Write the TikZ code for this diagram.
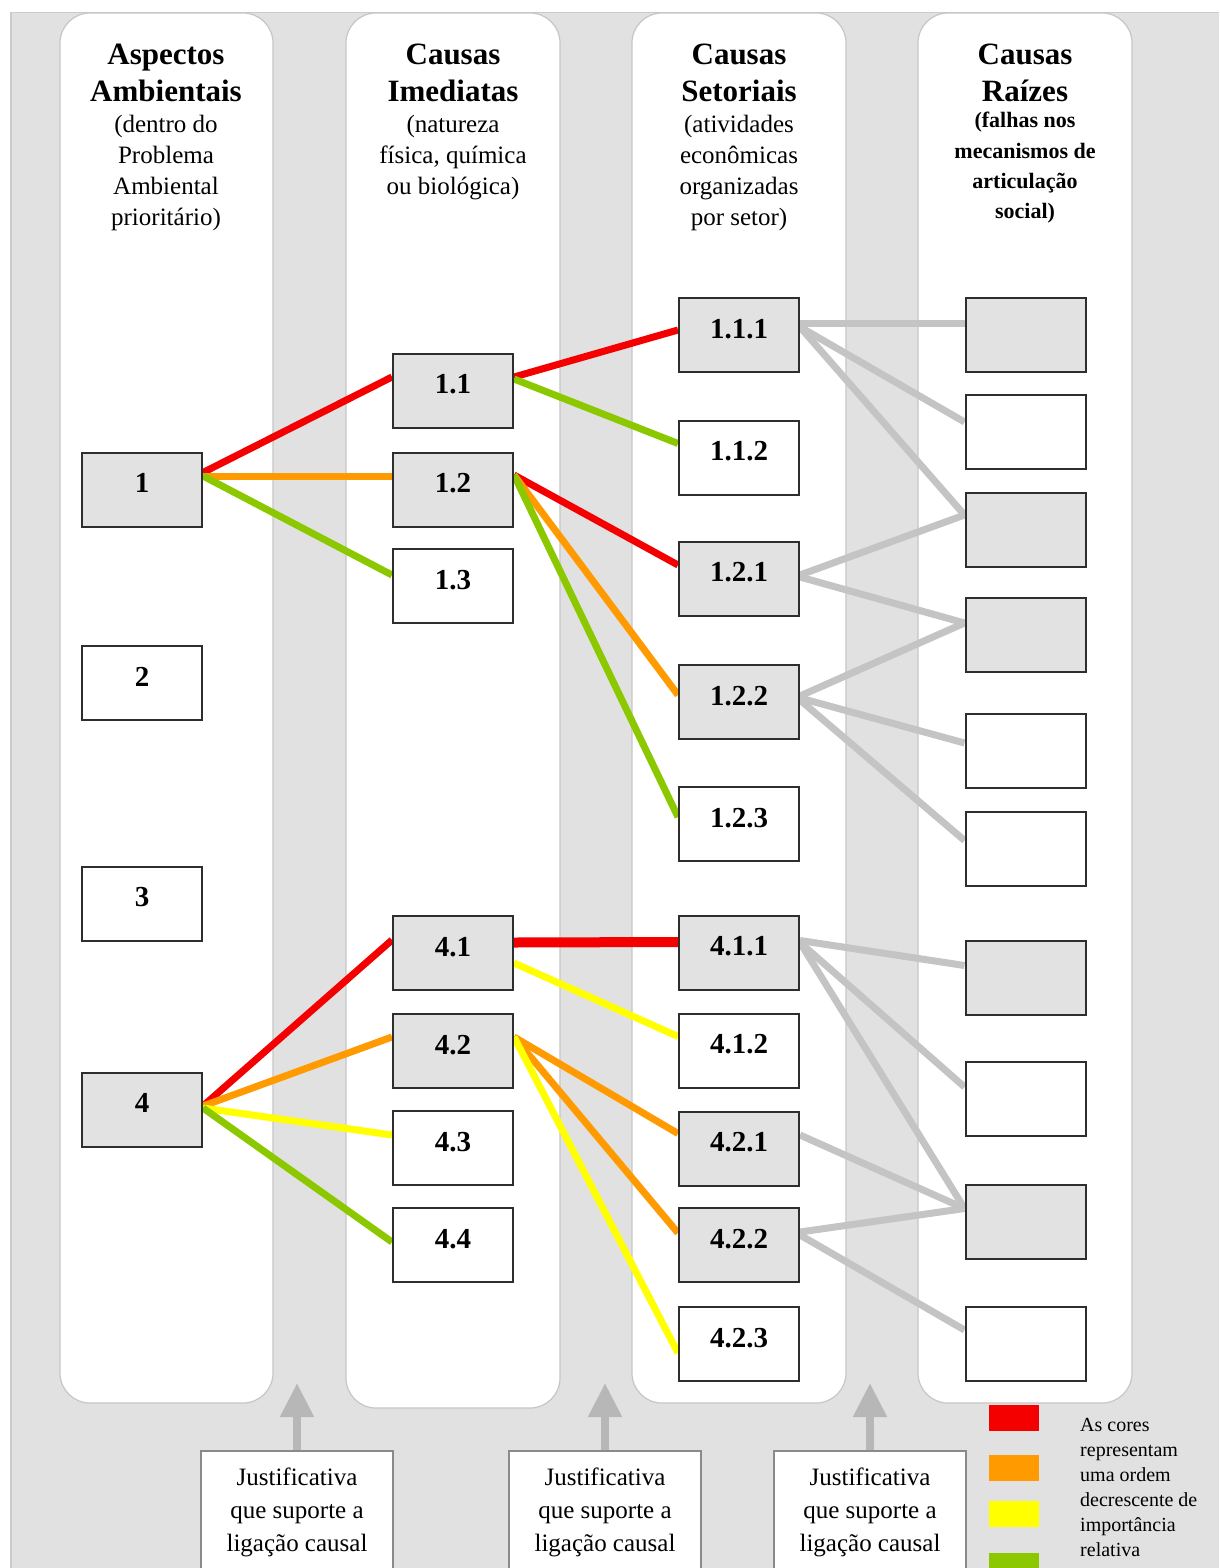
\documentclass[tikz,border=0pt]{standalone}
\usepackage{fontspec}
\setmainfont{Liberation Serif}
\usetikzlibrary{arrows.meta}

\definecolor{bg}{HTML}{E1E1E1}
\definecolor{bgedge}{HTML}{CBCBCB}
\definecolor{paneledge}{HTML}{C6C6C6}
\definecolor{boxgray}{HTML}{E2E2E2}
\definecolor{boxline}{HTML}{2E2E2E}
\definecolor{lred}{HTML}{F50000}
\definecolor{lorange}{HTML}{FF9A00}
\definecolor{lyellow}{HTML}{FFFF00}
\definecolor{lgreen}{HTML}{8CC800}
\definecolor{lgray}{HTML}{C4C4C4}
\definecolor{arrowgray}{HTML}{B7B7B7}
\definecolor{jedge}{HTML}{8A8A8A}

\pgfdeclarelayer{back}
\pgfdeclarelayer{links}
\pgfsetlayers{back,links,main}

\tikzset{
  panel/.style={fill=white, draw=paneledge, line width=1.2pt, rounded corners=30pt},
  ttl/.style={anchor=base, inner sep=0pt, font=\bfseries\fontsize{31}{37}\selectfont},
  sub/.style={anchor=base, inner sep=0pt, font=\fontsize{25}{31}\selectfont},
  subb/.style={anchor=base, inner sep=0pt, font=\bfseries\fontsize{22}{30}\selectfont},
  cbox/.style={draw=boxline, line width=2pt, minimum width=120pt, minimum height=74pt,
               inner sep=0pt, text height=20pt, text depth=14pt,
               font=\bfseries\fontsize{29}{29}\selectfont},
  gbox/.style={cbox, fill=boxgray},
  wbox/.style={cbox, fill=white},
  lk/.style={line width=7pt},
  jbox/.style={draw=jedge, line width=1.5pt, fill=white, minimum width=192pt,
               minimum height=140pt, anchor=north, inner sep=0pt},
  jtext/.style={align=center, inner sep=0pt, font=\fontsize{25}{33}\selectfont},
  jarrow/.style={draw=arrowgray, line width=8pt, -{Triangle[width=32pt,length=34pt]}},
  swatch/.style={minimum width=50pt, minimum height=26pt, inner sep=0pt, draw=none},
}

% connector from the east side of one box to the west side of another,
% each end shifted vertically by the given amount
\newcommand\lnk[5]{\draw[lk,#1] ([yshift=#3pt]#2.east) -- ([yshift=#5pt]#4.west);}

\begin{document}
\begin{tikzpicture}[x=1pt,y=-1pt]
\useasboundingbox (0,0) rectangle (1219,1568);

\begin{pgfonlayer}{back}
  \fill[white] (0,0) rectangle (1219,1568);
  \fill[bg] (10,12) rectangle (1219,1568);
  \draw[bgedge, line width=1.5pt] (10.75,1568) -- (10.75,12.75) -- (1219,12.75);
  % the four column panels
  \draw[panel] (60,13) rectangle (273,1403);
  \draw[panel] (346,13) rectangle (560,1408);
  \draw[panel] (632,13) rectangle (846,1403);
  \draw[panel] (918,13) rectangle (1132,1403);
\end{pgfonlayer}

% column headings
\node[ttl] (t1a) at (166,65) {Aspectos};
\node[ttl] (t1b) at (166,102) {Ambientais};
\node[sub] (s1a) at (166,132) {(dentro do};
\node[sub] (s1b) at (166,163) {Problema};
\node[sub] (s1c) at (166,194) {Ambiental};
\node[sub] (s1d) at (166,225) {prioritário)};

\node[ttl] (t2a) at (453,65) {Causas};
\node[ttl] (t2b) at (453,102) {Imediatas};
\node[sub] (s2a) at (453,132) {(natureza};
\node[sub] (s2b) at (453,163) {física, química};
\node[sub] (s2c) at (453,194) {ou biológica)};

\node[ttl] (t3a) at (739,65) {Causas};
\node[ttl] (t3b) at (739,102) {Setoriais};
\node[sub] (s3a) at (739,132) {(atividades};
\node[sub] (s3b) at (739,163) {econômicas};
\node[sub] (s3c) at (739,194) {organizadas};
\node[sub] (s3d) at (739,225) {por setor)};

\node[ttl] (t4a) at (1025,65) {Causas};
\node[ttl] (t4b) at (1025,102) {Raízes};
\node[subb] (s4a) at (1025,128) {(falhas nos};
\node[subb] (s4b) at (1025,158) {mecanismos de};
\node[subb] (s4c) at (1025,188) {articulação};
\node[subb] (s4d) at (1025,218) {social)};

% environmental aspects
\node[gbox] (a1) at (142,489.5) {1};
\node[wbox] (a2) at (142,683) {2};
\node[wbox] (a3) at (142,903.5) {3};
\node[gbox] (a4) at (142,1109.5) {4};

% immediate causes
\node[gbox] (i11) at (453,390.5) {1.1};
\node[gbox] (i12) at (453,489.5) {1.2};
\node[wbox] (i13) at (453,586) {1.3};
\node[gbox] (i41) at (453,953) {4.1};
\node[gbox] (i42) at (453,1051) {4.2};
\node[wbox] (i43) at (453,1148) {4.3};
\node[wbox] (i44) at (453,1245) {4.4};

% sectoral causes
\node[gbox] (s111) at (739,335) {1.1.1};
\node[wbox] (s112) at (739,457.5) {1.1.2};
\node[gbox] (s121) at (739,578.5) {1.2.1};
\node[gbox] (s122) at (739,702) {1.2.2};
\node[wbox] (s123) at (739,824) {1.2.3};
\node[gbox] (s411) at (739,952.5) {4.1.1};
\node[wbox] (s412) at (739,1050.5) {4.1.2};
\node[gbox] (s421) at (739,1148.5) {4.2.1};
\node[gbox] (s422) at (739,1245) {4.2.2};
\node[wbox] (s423) at (739,1344) {4.2.3};

% root causes
\node[gbox] (r1) at (1025.5,335) {};
\node[wbox] (r2) at (1025.5,432) {};
\node[gbox] (r3) at (1025.5,530) {};
\node[gbox] (r4) at (1025.5,635) {};
\node[wbox] (r5) at (1025.5,751) {};
\node[wbox] (r6) at (1025.5,848.5) {};
\node[gbox] (r7) at (1025.5,977.5) {};
\node[wbox] (r8) at (1025.5,1099) {};
\node[gbox] (r9) at (1025.5,1221.5) {};
\node[wbox] (r10) at (1025.5,1344) {};

\begin{pgfonlayer}{links}
  % aspects -> immediate causes
  \lnk{lred}{a1}{17}{i11}{13.5}
  \lnk{lorange}{a1}{13}{i12}{13}
  \lnk{lgreen}{a1}{13.5}{i13}{11}
  \lnk{lred}{a4}{3.5}{i41}{13}
  \lnk{lorange}{a4}{3.5}{i42}{14}
  \lnk{lyellow}{a4}{1.5}{i43}{13}
  \lnk{lgreen}{a4}{1.5}{i44}{3}
  % immediate -> sectoral causes
  \lnk{lred}{i11}{13.5}{s111}{5}
  \lnk{lgreen}{i11}{11.5}{s112}{14}
  \lnk{lred}{i12}{14.5}{s121}{13.5}
  \lnk{lorange}{i12}{14.5}{s122}{7}
  \lnk{lgreen}{i12}{14.5}{s123}{7}
  \lnk{lred,line width=10pt}{i41}{10.5}{s411}{10.5}
  \lnk{lyellow}{i41}{-10}{s412}{14}
  \lnk{lorange}{i42}{14}{s421}{15}
  \lnk{lorange}{i42}{14}{s422}{12}
  \lnk{lyellow}{i42}{14}{s423}{-9}
  % sectoral -> root causes
  \lnk{lgray}{s111}{12}{r1}{12}
  \lnk{lgray}{s111}{8}{r2}{10}
  \lnk{lgray}{s111}{8}{r3}{15}
  \lnk{lgray}{s121}{3.5}{r3}{15}
  \lnk{lgray}{s121}{1.5}{r4}{12}
  \lnk{lgray}{s122}{6}{r4}{12}
  \lnk{lgray}{s122}{4}{r5}{8}
  \lnk{lgray}{s122}{2}{r6}{8}
  \lnk{lgray}{s411}{12}{r7}{12}
  \lnk{lgray}{s411}{10}{r8}{12}
  \lnk{lgray}{s411}{10}{r9}{13}
  \lnk{lgray}{s421}{13.5}{r9}{13}
  \lnk{lgray}{s422}{13}{r9}{13}
  \lnk{lgray}{s422}{10}{r10}{14}
\end{pgfonlayer}

% justification boxes with their arrows
\node[jbox] (j1) at (297,1450) {};
\node[jbox] (j2) at (605,1450) {};
\node[jbox] (j3) at (870,1450) {};
\node[jtext] (j1t) at (297,1512) {Justificativa\\que suporte a\\ligação causal};
\node[jtext] (j2t) at (605,1512) {Justificativa\\que suporte a\\ligação causal};
\node[jtext] (j3t) at (870,1512) {Justificativa\\que suporte a\\ligação causal};
\coordinate (j1tip) at (297,1383);
\coordinate (j2tip) at (605,1383);
\coordinate (j3tip) at (870,1383);
\draw[jarrow] (j1.north) -- (j1tip);
\draw[jarrow] (j2.north) -- (j2tip);
\draw[jarrow] (j3.north) -- (j3tip);

% colour legend
\node[swatch, fill=lred] (k1) at (1013.5,1418) {};
\node[swatch, fill=lorange] (k2) at (1013.5,1468) {};
\node[swatch, fill=lyellow] (k3) at (1013.5,1514) {};
\node[swatch, fill=lgreen] (k4) at (1013.5,1566) {};
\node[anchor=north west, align=left, inner sep=0pt,
      font=\fontsize{20}{25}\selectfont] (kt) at (1080,1418.5)
  {As cores\\representam\\uma ordem\\decrescente de\\importância\\relativa};
\end{tikzpicture}
\end{document}
